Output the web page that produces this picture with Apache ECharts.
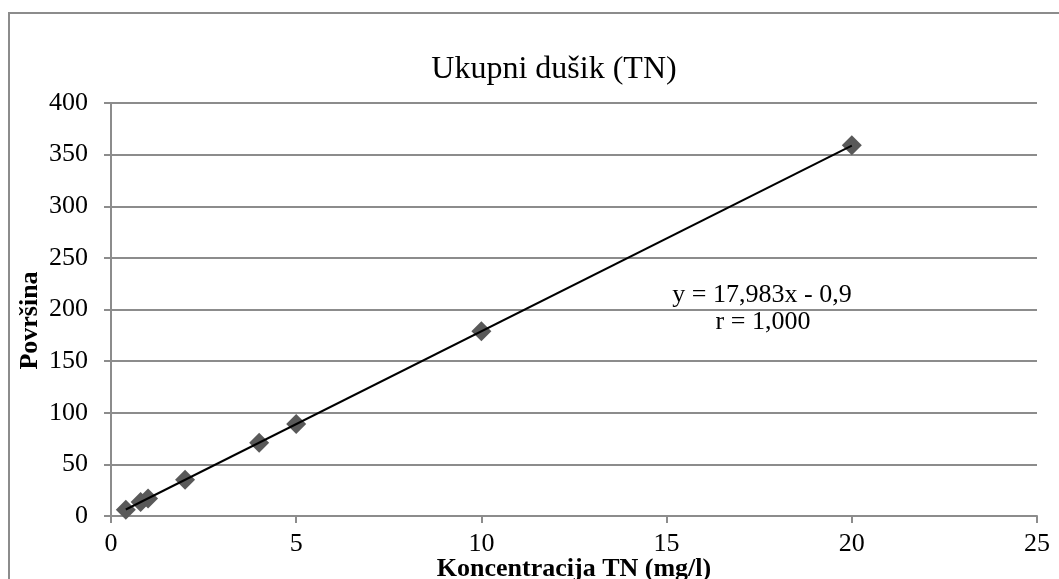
<!DOCTYPE html>
<html>
<head>
<meta charset="utf-8">
<script src="https://cdn.jsdelivr.net/npm/echarts@6/dist/echarts.min.js"></script>
<style>html,body{margin:0;padding:0;background:#fff}#c{width:1059px;height:579px}</style>
</head>
<body>
<div id="c"></div>
<script>
const titleText = 'Ukupni dušik (TN)';
const xName = 'Koncentracija TN (mg/l)';
const yName = 'Površina';
const xValues = [0.4, 0.8, 1.0, 2, 4, 5, 10, 20];
const yValues = [6, 13.5, 17, 35, 71, 89, 179, 359];
const slope = 17.983;
const intercept = -0.9;
const trendRange = [0.4, 20];
const eqLines = ['y = 17,983x - 0,9', 'r = 1,000'];

const font = '"Liberation Serif", "DejaVu Serif", serif';
const points = xValues.map((x, i) => [x, yValues[i]]);
const trend = trendRange.map(x => [x, slope * x + intercept]);

const chart = echarts.init(document.getElementById('c'));
chart.setOption({
  animation: false,
  backgroundColor: '#fff',
  title: {
    text: titleText, left: 549, textAlign: 'center', top: 49,
    textStyle: {fontFamily: font, fontSize: 32, fontWeight: 'normal', color: '#000'}
  },
  grid: {left: 111, right: 22, top: 103, bottom: 63, containLabel: false, outerBoundsMode: 'none'},
  xAxis: {
    type: 'value', min: 0, max: 25, interval: 5,
    name: xName, nameLocation: 'middle', nameGap: 40, nameMoveOverlap: false,
    nameTextStyle: {fontFamily: font, fontSize: 26, fontWeight: 'bold', color: '#000'},
    axisLine: {show: true, lineStyle: {color: '#8c8c8c', width: 2}},
    axisTick: {show: true, length: 7, lineStyle: {color: '#8c8c8c', width: 2}},
    axisLabel: {fontFamily: font, fontSize: 26, color: '#000', margin: 15},
    splitLine: {show: false}
  },
  yAxis: {
    type: 'value', min: 0, max: 400, interval: 50,
    name: yName, nameLocation: 'middle', nameGap: 68, nameRotate: 90, nameMoveOverlap: false,
    nameTextStyle: {fontFamily: font, fontSize: 26, fontWeight: 'bold', color: '#000', padding: [0, 22, 0, 0]},
    axisLine: {show: true, lineStyle: {color: '#8c8c8c', width: 2}},
    axisTick: {show: true, length: 7, lineStyle: {color: '#8c8c8c', width: 2}},
    axisLabel: {fontFamily: font, fontSize: 26, color: '#000', margin: 23},
    splitLine: {show: true, lineStyle: {color: '#8c8c8c', width: 2}}
  },
  series: [
    {
      type: 'line', data: trend, symbol: 'none', z: 3,
      lineStyle: {color: '#000', width: 2}
    },
    {
      type: 'scatter', data: points, symbol: 'diamond', symbolSize: 20, z: 2,
      itemStyle: {color: '#595959', opacity: 1}
    }
  ],
  graphic: [
    {type: 'rect', shape: {x: 9, y: 13, width: 1080, height: 600}, style: {fill: 'none', stroke: '#8c8c8c', lineWidth: 2}, z: -1},
    {type: 'text', x: 762, y: 282, style: {text: eqLines[0], align: 'center', fontFamily: font, fontSize: 26, fill: '#000'}},
    {type: 'text', x: 763, y: 309, style: {text: eqLines[1], align: 'center', fontFamily: font, fontSize: 26, fill: '#000'}}
  ]
});
</script>
</body>
</html>
